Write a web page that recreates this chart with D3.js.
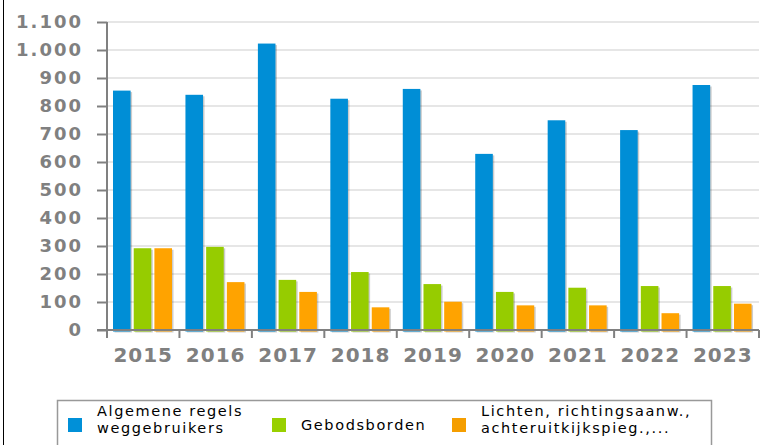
<!DOCTYPE html>
<html>
<head>
<meta charset="utf-8">
<script src="https://cdn.jsdelivr.net/npm/d3@7"></script>
<style>
  body { margin: 0; background: #fff; }
  .tickText { font-family: "DejaVu Sans", sans-serif; font-weight: bold; fill: #808080; }
  .legendText { font-family: "DejaVu Sans", sans-serif; font-size: 14.5px; fill: #000; }
</style>
</head>
<body>
<div class="row"></div>
<script>
var svgWidth = 764;
var svgHeight = 445;

// Data
var years = ["2015", "2016", "2017", "2018", "2019", "2020", "2021", "2022", "2023"];
var seriesNames = ["Algemene regels weggebruikers", "Gebodsborden", "Lichten, richtingsaanw., achteruitkijkspieg.,..."];
var algemeneRegels = [855, 840, 1023, 826, 861, 629, 749, 714, 875];
var gebodsborden = [292, 297, 179, 207, 164, 136, 151, 157, 157];
var lichten = [292, 171, 136, 81, 101, 88, 88, 60, 94];
var yTicks = [0, 100, 200, 300, 400, 500, 600, 700, 800, 900, 1000, 1100];

var legendLines = [["Algemene regels", "weggebruikers"], ["Gebodsborden"], ["Lichten, richtingsaanw.,", "achteruitkijkspieg.,..."]];
var gradStops = [
  ["#008ed6", "#00abf7", "#008ed6"],
  ["#96cc00", "#b2f200", "#96cc00"],
  ["#ffa300", "#ffb000", "#ef9800"]
];
var legendColors = ["#0090d8", "#99d000", "#f59e00"];

var margin = { top: 22, right: 5, bottom: 115, left: 107 };
var width = svgWidth - margin.left - margin.right;
var height = svgHeight - margin.top - margin.bottom;

var svg = d3.select(".row")
  .append("svg")
  .attr("width", svgWidth)
  .attr("height", svgHeight);

// left frame line
svg.append("line")
  .attr("x1", 3.5).attr("x2", 3.5)
  .attr("y1", 0).attr("y2", svgHeight)
  .attr("stroke", "#000").attr("stroke-width", 1);

var defs = svg.append("defs");
gradStops.forEach(function(stops, i) {
  var g = defs.append("linearGradient")
    .attr("id", "grad" + i)
    .attr("gradientUnits", "userSpaceOnUse")
    .attr("x1", margin.left).attr("x2", margin.left + width)
    .attr("y1", 0).attr("y2", 0);
  g.append("stop").attr("offset", "0%").attr("stop-color", stops[0]);
  g.append("stop").attr("offset", "50%").attr("stop-color", stops[1]);
  g.append("stop").attr("offset", "100%").attr("stop-color", stops[2]);
});

var chartGroup = svg.append("g")
  .attr("transform", `translate(${margin.left}, ${margin.top})`);

var data = years.map(function(y, i) {
  return { year: y, values: [algemeneRegels[i], gebodsborden[i], lichten[i]] };
});

var x0 = d3.scaleBand().domain(years).range([0, width]);
var x1 = d3.scaleBand().domain([0, 1, 2]).range([6, 65]).paddingInner(0.15);
var yScale = d3.scaleLinear().domain([0, 1100]).range([height, 0]);

var nlFormat = d3.formatLocale({ decimal: ",", thousands: ".", grouping: [3], currency: ["", ""] }).format(",");

// gridlines
chartGroup.append("g")
  .selectAll("line")
  .data(yTicks.slice(1))
  .enter()
  .append("line")
  .attr("x1", 0).attr("x2", width)
  .attr("y1", d => yScale(d)).attr("y2", d => yScale(d))
  .attr("stroke", "#e6e6e6").attr("stroke-width", 2);

// bars
var groups = chartGroup.selectAll(".yearGroup")
  .data(data)
  .enter()
  .append("g")
  .attr("transform", d => `translate(${x0(d.year)}, 0)`);

groups.selectAll(".shadow")
  .data(d => d.values)
  .enter()
  .append("rect")
  .attr("x", (d, i) => x1(i) + 1.5)
  .attr("y", d => yScale(d) + 1.5)
  .attr("width", x1.bandwidth())
  .attr("height", d => height - yScale(d) + 1)
  .attr("fill", "#000")
  .attr("opacity", 0.2);

groups.selectAll(".bar")
  .data(d => d.values)
  .enter()
  .append("rect")
  .attr("x", (d, i) => x1(i))
  .attr("y", d => yScale(d))
  .attr("width", x1.bandwidth())
  .attr("height", d => height - yScale(d) + 1.5)
  .attr("fill", (d, i) => "url(#grad" + i + ")");

// axes
var leftAxis = d3.axisLeft(yScale).tickValues(yTicks).tickSize(10).tickPadding(14).tickFormat(nlFormat);
var yAxisG = chartGroup.append("g").call(leftAxis);
yAxisG.select(".domain").attr("stroke", "#808080").attr("stroke-width", 2).attr("d", `M0,0V${height}`);
yAxisG.selectAll(".tick line").attr("stroke", "#808080").attr("stroke-width", 2);
yAxisG.selectAll(".tick text")
  .attr("class", "tickText")
  .style("font-size", "18px")
  .style("letter-spacing", "2px");

var xAxisG = chartGroup.append("g").attr("transform", `translate(0, ${height})`);
xAxisG.append("line")
  .attr("x1", -10).attr("x2", width)
  .attr("stroke", "#808080").attr("stroke-width", 2);
xAxisG.selectAll(".xtick")
  .data(years.concat(["end"]))
  .enter()
  .append("line")
  .attr("x1", (d, i) => i < years.length ? x0(d) : width)
  .attr("x2", (d, i) => i < years.length ? x0(d) : width)
  .attr("y1", 0).attr("y2", 8)
  .attr("stroke", "#808080").attr("stroke-width", 2);
xAxisG.selectAll(".xlabel")
  .data(years)
  .enter()
  .append("text")
  .attr("class", "tickText")
  .attr("x", d => x0(d) + x0.bandwidth() / 2)
  .attr("y", 32)
  .attr("text-anchor", "middle")
  .style("font-size", "20px")
  .style("letter-spacing", "1px")
  .text(d => d);

// legend
var legend = svg.append("g");
legend.append("rect")
  .attr("x", 57.5).attr("y", 400.5)
  .attr("width", 654).attr("height", 60)
  .attr("fill", "#fff")
  .attr("stroke", "#999").attr("stroke-width", 1.5);

var legendX = [68, 272, 452];
legendLines.forEach(function(lines, i) {
  legend.append("rect")
    .attr("x", legendX[i]).attr("y", 418)
    .attr("width", 14).attr("height", 14)
    .attr("fill", legendColors[i]);
  lines.forEach(function(line, j) {
    legend.append("text")
      .attr("class", "legendText")
      .attr("x", legendX[i] + 29)
      .attr("y", (lines.length > 1 ? 416 : 430) + j * 17)
      .style("letter-spacing", "1.6px")
      .text(line);
  });
});
</script>
</body>
</html>
